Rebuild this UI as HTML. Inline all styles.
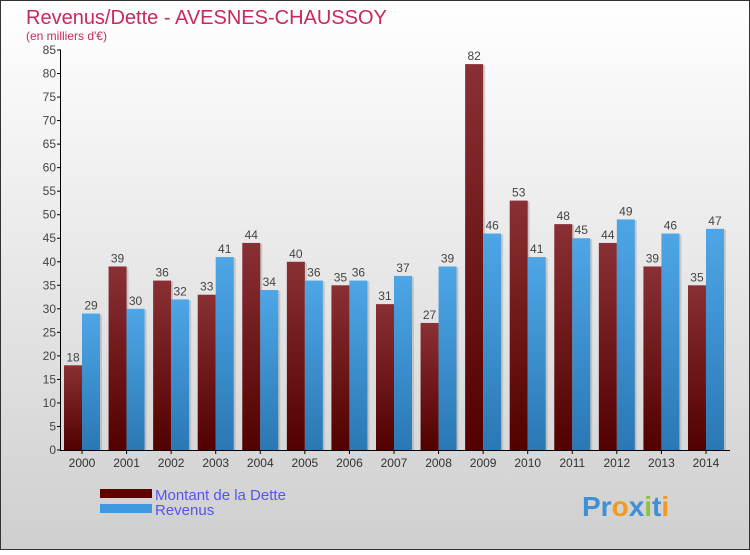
<!DOCTYPE html>
<html><head><meta charset="utf-8"><style>
body{margin:0}
svg text{font-family:"Liberation Sans",sans-serif}
</style></head><body>
<svg id="c" width="750" height="550" xmlns="http://www.w3.org/2000/svg">
<defs>
<linearGradient id="bg" x1="0" y1="0" x2="0" y2="1"><stop offset="0" stop-color="#ffffff"/><stop offset="1" stop-color="#cfcfcf"/></linearGradient>
<linearGradient id="gd" x1="0" y1="0" x2="0" y2="1"><stop offset="0" stop-color="#8a3034"/><stop offset="1" stop-color="#520000"/></linearGradient>
<linearGradient id="gr" x1="0" y1="0" x2="0" y2="1"><stop offset="0" stop-color="#4ea6e6"/><stop offset="1" stop-color="#2a78b4"/></linearGradient>
</defs>
<rect x="0.5" y="0.5" width="749" height="549" fill="url(#bg)" stroke="#333"/>
<text x="26" y="24" font-size="20" fill="#c8285f">Revenus/Dette - AVESNES-CHAUSSOY</text>
<text x="26" y="40" font-size="12" fill="#c8285f">(en milliers d'€)</text>
<g id="bars"></g>
<g id="axes"></g>
<rect x="100" y="489" width="52" height="9" fill="#600000"/>
<rect x="100" y="504" width="52" height="9" fill="#3d9ae0"/>
<text x="155" y="500" font-size="15" fill="#5555ee">Montant de la Dette</text>
<text x="155" y="515" font-size="15" fill="#5555ee">Revenus</text>
<text x="582" y="516" font-size="28" font-weight="bold"><tspan fill="#3d8fd6">Pr</tspan><tspan fill="#f39a1e">o</tspan><tspan fill="#3d8fd6">x</tspan><tspan fill="#8ac43f">i</tspan><tspan fill="#3d8fd6">t</tspan><tspan fill="#f39a1e">i</tspan></text>
</svg>
<script>
const years=["2000","2001","2002","2003","2004","2005","2006","2007","2008","2009","2010","2011","2012","2013","2014"];
const dette=[18,39,36,33,44,40,35,31,27,82,53,48,44,39,35];
const revenus=[29,30,32,41,34,36,36,37,39,46,41,45,49,46,47];
const yTicks=[0,5,10,15,20,25,30,35,40,45,50,55,60,65,70,75,80,85];
const NS="http://www.w3.org/2000/svg";
const y0=450,ppu=400/85,x0=82,step=44.57,bw=18;
const yS=v=>y0-v*ppu, xS=i=>x0+i*step;
function mk(t,a,p){const e=document.createElementNS(NS,t);for(const k in a)e.setAttribute(k,a[k]);p.appendChild(e);return e;}
const B=document.getElementById('bars'),A=document.getElementById('axes');
years.forEach((y,i)=>{
 const c=xS(i);
 [[dette[i],c-bw,'url(#gd)','bar-dette-'+y],[revenus[i],c,'url(#gr)','bar-revenus-'+y]].forEach(([v,x,f,n])=>{
  mk('rect',{x:x+2,y:yS(v)+1,width:bw,height:v*ppu-1,fill:'#999','fill-opacity':0.4},B);
  const r=mk('rect',{x:x,y:yS(v),width:bw,height:v*ppu,fill:f},B);
  
  
  const t=mk('text',{x:x+bw/2,y:yS(v)-4,'font-size':12,'text-anchor':'middle',fill:'#444'},B);
  t.textContent=v;
  
  
 });
 mk('line',{x1:c,y1:y0,x2:c,y2:y0+4,stroke:'#000'},A);
 const t=mk('text',{x:c,y:y0+17,'font-size':12,'text-anchor':'middle',fill:'#333'},A);
 t.textContent=y;
 
 
});
yTicks.forEach(v=>{
 mk('line',{x1:57,y1:yS(v),x2:61,y2:yS(v),stroke:'#000'},A);
 const t=mk('text',{x:56,y:yS(v)+4,'font-size':12,'text-anchor':'end',fill:'#444'},A);
 t.textContent=v;
 
 
});
const ya=mk('line',{x1:60.5,y1:yS(85),x2:60.5,y2:y0,stroke:'#000'},A);


const xa=mk('line',{x1:60,y1:y0+0.5,x2:730,y2:y0+0.5,stroke:'#000'},A);


</script>
</body></html>
